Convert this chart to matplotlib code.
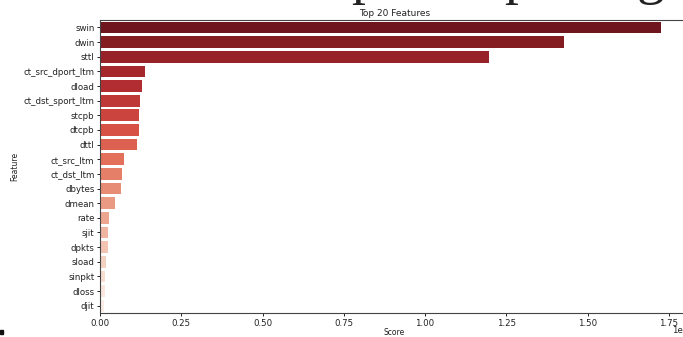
import numpy as np
import matplotlib
matplotlib.use("Agg")
import matplotlib.pyplot as plt
import seaborn as sns
from matplotlib.patches import Rectangle

# feature scores (x 1e7)
features = ["swin", "dwin", "sttl", "ct_src_dport_ltm", "dload",
            "ct_dst_sport_ltm", "stcpb", "dtcpb", "dttl", "ct_src_ltm",
            "ct_dst_ltm", "dbytes", "dmean", "rate", "sjit",
            "dpkts", "sload", "sinpkt", "dloss", "djit"]
scores = np.array([1.725, 1.428, 1.196, 0.138, 0.128,
                   0.123, 0.121, 0.120, 0.115, 0.075,
                   0.069, 0.064, 0.045, 0.027, 0.026,
                   0.024, 0.020, 0.015, 0.014, 0.013]) * 1e7

fig = plt.figure(figsize=(6.83, 3.37), dpi=100)
# axes run past the right edge, like the cropped original
ax = fig.add_axes([0.1464, 0.0712, 0.862, 0.869])

sns.barplot(x=scores, y=features, hue=features, palette="Reds_r",
            legend=False, ax=ax)

ax.set_title("Top 20 Features", fontsize=6.5, pad=3, color="#222222")
ax.set_xlabel("Score", fontsize=5.5, labelpad=0, color="#222222")
ax.set_ylabel("Feature", fontsize=5.5, labelpad=3, color="#222222")
ax.tick_params(axis="both", labelsize=6.2, length=2.5, width=0.6, pad=1.5,
               labelcolor="#222222")
for s in ax.spines.values():
    s.set_linewidth(0.8)
    s.set_color("#444444")

# offset label drawn by hand so it sits where the original had it
ax.xaxis.get_offset_text().set_visible(False)
ax.text(1.0, -0.046, "1e7", transform=ax.transAxes, ha="right", va="top",
        fontsize=6.2, color="#222222")

# descenders of the document heading cut off above the figure
for xf, ch in [(0.535, "p"), (0.758, "p"), (0.953, "g")]:
    fig.text(xf, 1.02, ch, family="Liberation Serif", fontsize=40,
             color="#222222", ha="center", va="baseline")

# stray mark in the bottom-left corner of the crop
fig.patches.append(Rectangle((0, 0.008), 0.005, 0.012, transform=fig.transFigure,
                             color="#111111", figure=fig))

fig.savefig("out.png", dpi=100)
